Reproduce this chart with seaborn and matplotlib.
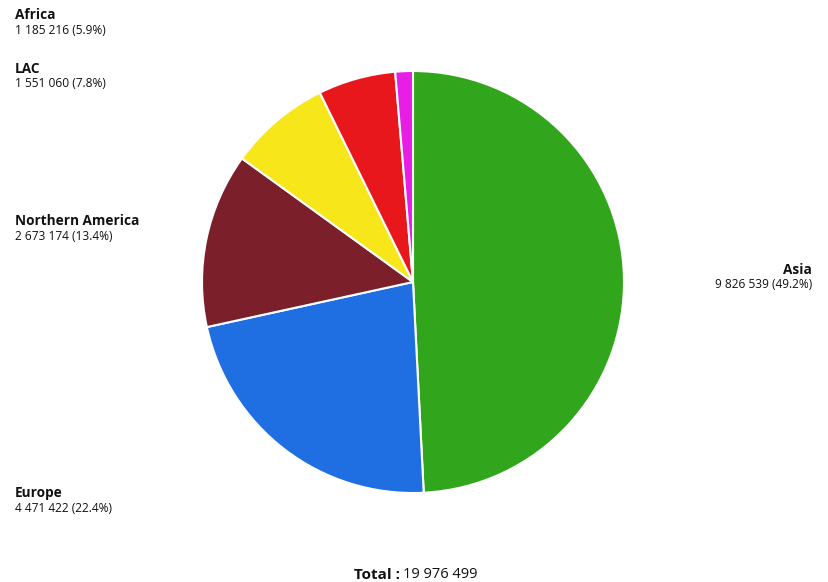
import matplotlib
matplotlib.use("Agg")
import matplotlib.pyplot as plt
import seaborn as sns

regions = ["Asia", "Europe", "Northern America", "LAC", "Africa", "Oceania"]
values = [9826539, 4471422, 2673174, 1551060, 1185216, 269088]
colors = ["#31a61c", "#1f6fe3", "#7b1f2b", "#f6e61a", "#e8171b", "#e61ee6"]
total_value = 19976499

sns.set_theme(style="white")
plt.rcParams['font.family'] = ['Open Sans', 'DejaVu Sans']

W, H = 829, 582
fig = plt.figure(figsize=(W / 100, H / 100), dpi=100)
cx, cy, r = 413, 282, 211
ax = fig.add_axes([(cx - r) / W, 1 - (cy + r) / H, 2 * r / W, 2 * r / H])
ax.pie(values, colors=colors, startangle=90, counterclock=False,
       wedgeprops=dict(edgecolor="white", linewidth=1.5))
ax.set_xlim(-1, 1)
ax.set_ylim(-1, 1)
ax.set_aspect("equal")
ax.axis("off")


def fmt(v):
    return f"{v:,}".replace(",", " ") + f" ({v / total_value * 100:.1f}%)"


label_pos = {
    "Africa": (15, 15, "left"),
    "LAC": (15, 69, "left"),
    "Northern America": (15, 221, "left"),
    "Europe": (15, 493, "left"),
    "Asia": (812, 270, "right"),
}
for name, v in zip(regions, values):
    if name not in label_pos:
        continue
    x, y, ha = label_pos[name]
    fig.text(x / W, 1 - y / H, name, fontsize=9.8, fontweight="bold",
             ha=ha, va="center", color="#111111")
    fig.text(x / W, 1 - (y + 15) / H, fmt(v), fontsize=8.6,
             ha=ha, va="center", color="#111111")

fig.text(400 / W, 1 - 575 / H, "Total :", fontsize=11, fontweight="bold",
         ha="right", va="center", color="#111111")
fig.text(403 / W, 1 - 575 / H, f"{total_value:,}".replace(",", " "),
         fontsize=10.5, ha="left", va="center", color="#111111")

fig.savefig("out.png", dpi=100)
